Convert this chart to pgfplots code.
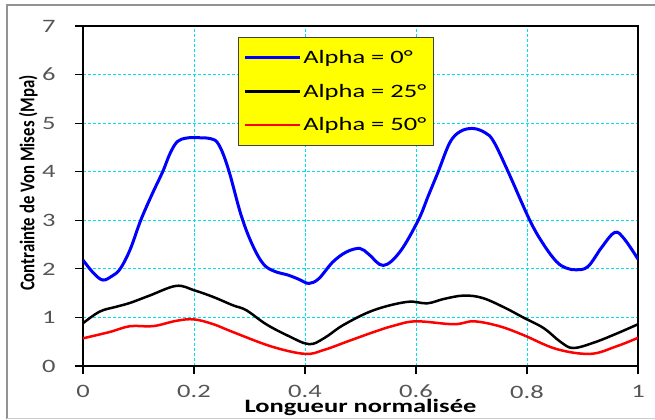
\documentclass[border=0pt]{standalone}
\usepackage{pgfplots}
\pgfplotsset{compat=1.18}
\usepackage{fontspec}
\setmainfont{Carlito}[FakeStretch=1.4]
\newfontfamily\plainfont{Carlito}[FakeStretch=0.8]
\definecolor{gridcyan}{RGB}{0,225,240}
\definecolor{tickgray}{RGB}{85,85,85}
\definecolor{legyellow}{RGB}{255,255,0}
\begin{document}
\begin{tikzpicture}[x=1bp,y=1bp]
\path[use as bounding box] (0,0) rectangle (655,419);
\draw[gray!85, line width=2bp] (7,0) -- (7,414) -- (655,414);
\draw[gray!40, line width=1bp] (7,1) -- (655,1);
\begin{axis}[
  at={(83bp,53bp)}, anchor=south west,
  scale only axis, width=555bp, height=340bp,
  xmin=0, xmax=1, ymin=0, ymax=7,
  xtick={0,0.2,0.4,0.6,0.8,1}, xticklabels={0,0.2,0.4,0.6,0.8,1},
  ytick={0,1,2,3,4,5,6,7},
  xtick pos=bottom, ytick pos=left,
  tick align=outside, major tick length=8bp,
  tick style={black, line width=1.2bp},
  axis line style={black, line width=2.2bp},
  grid=major,
  major grid style={gridcyan, densely dashed, line width=1bp},
  /pgf/number format/assume math mode=true,
  tick label style={font=\fontsize{19}{19}\selectfont, text=tickgray},
  xticklabel style={inner ysep=1bp, yshift=-10bp},
  yticklabel style={xshift=-16bp},
  xlabel={\textbf{Longueur normalisée}},
  ylabel={\plainfont\bfseries Contrainte de Von Mises (Mpa)},
  xlabel style={font=\fontsize{19}{19}\selectfont, inner ysep=1bp, at={(axis description cs:0.5,-0.094)}, anchor=north},
  ylabel style={font=\fontsize{21}{21}\selectfont, at={(axis description cs:-0.0987,0.538)}, anchor=center},
  legend style={at={(0.280,0.968)}, anchor=north west, fill=legyellow,
    draw=darkgray, line width=1bp, font=\fontsize{19}{19}\selectfont,
    inner xsep=5bp, inner ysep=11bp, row sep=15bp, cells={anchor=west}},
  legend cell align=left,
  legend image code/.code={\draw[#1, line width=2.4bp] (0bp,0bp) -- (55bp,0bp);},
]
\addplot[blue, line width=3bp, smooth, tension=0.6] coordinates {
(0,2.18) (0.02,1.9) (0.036,1.77) (0.052,1.85) (0.067,2.0) (0.085,2.4)
(0.104,3.0) (0.125,3.55) (0.1436,4.0) (0.157,4.38) (0.17,4.62) (0.185,4.69)
(0.2,4.7) (0.23,4.68) (0.245,4.55) (0.262,4.05) (0.285,3.1) (0.305,2.5)
(0.325,2.1) (0.345,1.95) (0.37,1.87) (0.39,1.78) (0.407,1.70) (0.425,1.8)
(0.45,2.14) (0.475,2.35) (0.499,2.42) (0.515,2.3) (0.541,2.07) (0.571,2.35)
(0.604,3.0) (0.622,3.5) (0.640,4.0) (0.661,4.6) (0.68,4.83) (0.703,4.89)
(0.725,4.8) (0.74,4.62) (0.766,4.0) (0.805,3.0) (0.83,2.5) (0.853,2.15)
(0.87,2.02) (0.889,1.98) (0.91,2.05) (0.935,2.45) (0.958,2.75) (0.975,2.62)
(1,2.2)};
\addlegendentry{Alpha = 0°}
\addplot[black, line width=2.5bp, smooth, tension=0.6] coordinates {
(0,0.88) (0.03,1.12) (0.06,1.22) (0.085,1.30) (0.12,1.45) (0.168,1.65)
(0.2,1.56) (0.235,1.42) (0.27,1.25) (0.294,1.15) (0.33,0.86) (0.37,0.62)
(0.407,0.45) (0.434,0.57) (0.47,0.85) (0.524,1.15) (0.584,1.32) (0.62,1.29)
(0.65,1.38) (0.686,1.45) (0.72,1.40) (0.76,1.2) (0.793,1.0) (0.83,0.78)
(0.86,0.5) (0.883,0.37) (0.92,0.48) (0.96,0.66) (1,0.86)};
\addlegendentry{Alpha = 25°}
\addplot[red, line width=2.5bp, smooth, tension=0.6] coordinates {
(0,0.57) (0.048,0.70) (0.085,0.82) (0.126,0.82) (0.168,0.93) (0.2,0.96)
(0.235,0.86) (0.27,0.70) (0.34,0.40) (0.40,0.25) (0.434,0.33) (0.48,0.52)
(0.524,0.70) (0.56,0.83) (0.60,0.92) (0.668,0.86) (0.704,0.92) (0.75,0.82)
(0.793,0.64) (0.853,0.35) (0.914,0.25) (0.96,0.40) (1,0.58)};
\addlegendentry{Alpha = 50°}
\end{axis}
\end{tikzpicture}
\end{document}
